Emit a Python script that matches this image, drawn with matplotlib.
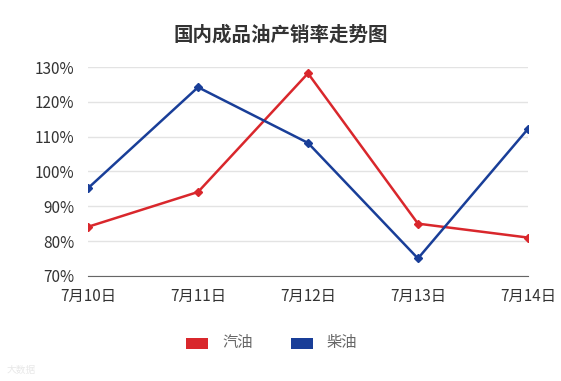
import matplotlib
matplotlib.use("Agg")
import matplotlib.pyplot as plt
from matplotlib.patches import Rectangle
from matplotlib.ticker import FuncFormatter

plt.rcParams['font.family'] = ['Noto Sans CJK SC', 'DejaVu Sans']

categories = ["7月10日", "7月11日", "7月12日", "7月13日", "7月14日"]
gasoline = [84.1, 94.1, 128.2, 85.0, 81.0]
diesel = [95.2, 124.2, 108.2, 75.0, 112.2]
series_names = ["汽油", "柴油"]
colors = ["#d9272c", "#193e98"]
yticks = [70, 80, 90, 100, 110, 120, 130]

fig = plt.figure(figsize=(5.61, 3.81), dpi=100)
ax = fig.add_axes([0.157, 0.276, 0.784, 0.548])

x = list(range(len(categories)))
for vals, c in zip([gasoline, diesel], colors):
    ax.plot(x, vals, color=c, lw=1.8, marker='D', ms=4.5, zorder=3)

ax.set_xlim(0, len(categories) - 1)
ax.set_ylim(70, 130)
ax.set_yticks(yticks)
ax.yaxis.set_major_formatter(FuncFormatter(lambda v, p: f"{int(v)}%"))
ax.set_xticks(x)
ax.set_xticklabels(categories)
ax.grid(axis='y', color='#e3e3e3', lw=1)
ax.set_axisbelow(True)
for s in ['top', 'right', 'left']:
    ax.spines[s].set_visible(False)
ax.spines['bottom'].set_color('#666666')
ax.tick_params(axis='both', length=0, labelsize=11, colors='#333333')
ax.tick_params(axis='y', pad=10)
ax.tick_params(axis='x', pad=9)

fig.text(0.5, 0.908, "国内成品油产销率走势图", ha='center', va='center',
         fontsize=14, fontweight='bold', color='#333333')

# legend
for i, (name, c) in enumerate(zip(series_names, colors)):
    lx = 186 + i * 105
    fig.patches.append(Rectangle((lx / 561, 1 - 349 / 381), 22 / 561, 11 / 381,
                                 transform=fig.transFigure, facecolor=c,
                                 edgecolor='white', lw=0))
    fig.text((lx + 36) / 561, 1 - 343 / 381, name, ha='left', va='center',
             fontsize=11, color='#666666')

fig.text(0.012, 0.03, "大数据", fontsize=7, color='#e8e8e8', ha='left', va='center')

fig.savefig("out.png", dpi=100, facecolor='white')
